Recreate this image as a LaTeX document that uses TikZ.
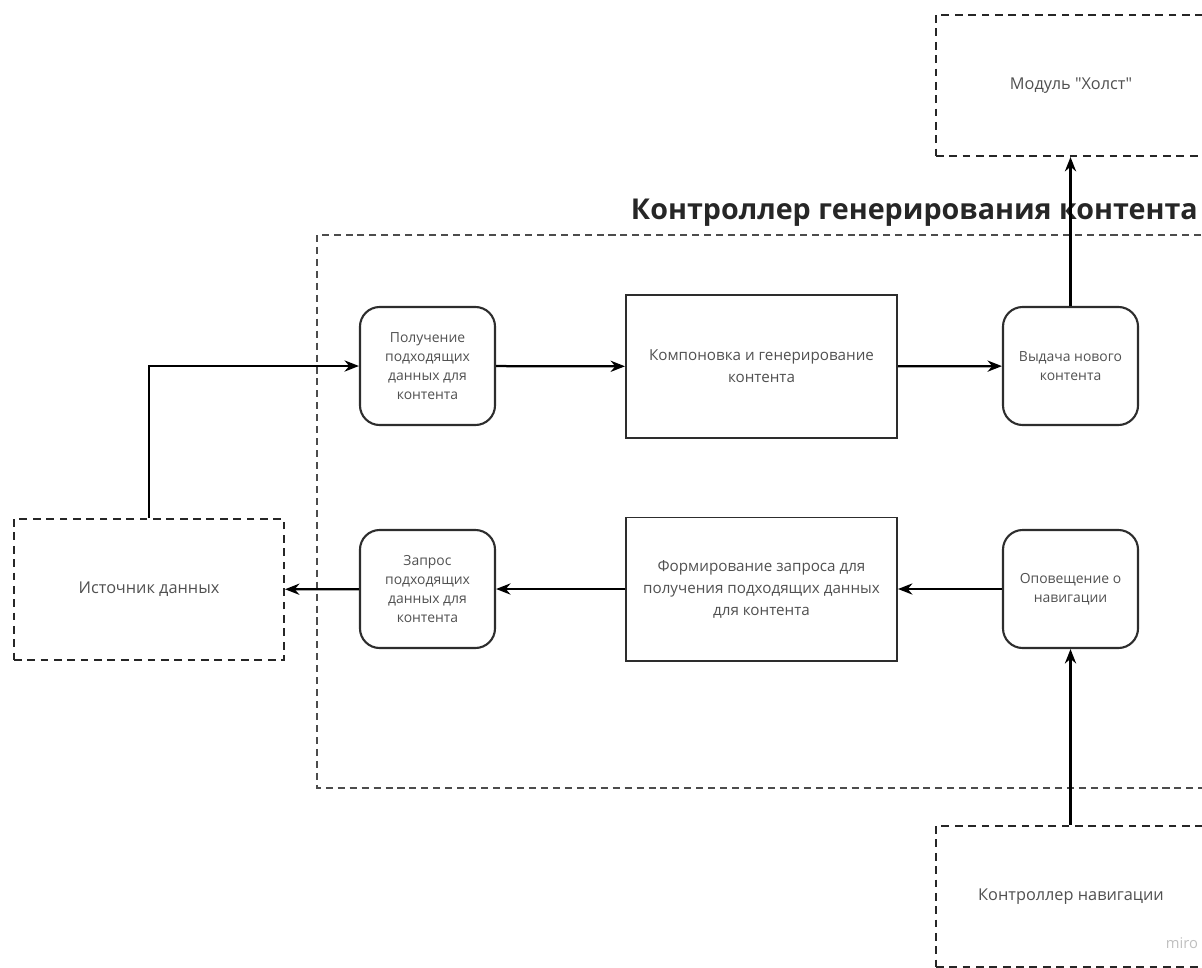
\documentclass[tikz,border=0pt]{standalone}
\usepackage{fontspec}
\setmainfont{Open Sans}[Ligatures=TeXOff]
\usetikzlibrary{arrows.meta,positioning}
\definecolor{txtgray}{RGB}{80,80,80}
\definecolor{edgegray}{RGB}{45,45,45}
\tikzset{
  stepr/.style={draw=edgegray, line width=1.5pt, rounded corners=14pt,
                minimum width=3.375cm, minimum height=2.95cm, align=center,
                font=\fontsize{9.9}{13.5}\selectfont, text=txtgray},
  proc/.style={draw=edgegray, line width=1.4pt, minimum width=6.775cm,
               minimum height=3.575cm, align=center,
               font=\fontsize{10.8}{15.6}\selectfont, text=txtgray},
  ext/.style={draw=black!85, line width=1.4pt, dash pattern=on 5.5pt off 4pt,
              minimum width=6.75cm, minimum height=3.525cm,
              font=\fontsize{11.6}{15.6}\selectfont, text=txtgray},
  frame/.style={draw=black!70, line width=0.8pt, dash pattern=on 5pt off 3.5pt},
  ttl/.style={font=\fontsize{20.4}{24}\selectfont\bfseries, text=black!85},
  flowarr/.style={-{Stealth[length=3.6mm,width=2.8mm]}, line width=1.6pt},
}

\begin{document}
\begin{tikzpicture}[x=0.025cm, y=-0.025cm]
  \useasboundingbox (0,0) rectangle (1202,967);
  \clip (0,0) rectangle (1202,967);
  % controller frame
  \draw[frame] (317,235) rectangle (1240,788);
  \node[ttl, anchor=west] (title) at (626,213) {Контроллер генерирования контента};
  % outer modules
  \node[ext] (canvas) at (1071,85.5) {Модуль "Холст"};
  \node[ext] (src) at (149,589.5) {Источник данных};
  \node[ext] (nav) at (1071,896.5) {Контроллер навигации};
  % upper row
  \node[stepr] (get) at (427.5,366) {Получение\\подходящих\\данных для\\контента};
  \node[proc] (comp) at (761.5,366.5) {Компоновка и генерирование\\контента};
  \node[stepr] (out) at (1070.5,366) {Выдача нового\\контента};
  % lower row
  \node[stepr] (req) at (427.5,589) {Запрос\\подходящих\\данных для\\контента};
  \node[proc] (form) at (761.5,589) {Формирование запроса для\\получения подходящих данных\\для контента};
  \node[stepr] (notif) at (1070.5,589) {Оповещение о\\навигации};
  % connectors
  \draw[flowarr] (src.north) |- (get.west);
  \draw[flowarr] (get) -- (comp);
  \draw[flowarr] (comp) -- (out);
  \draw[flowarr] (out.north) -- (out.north |- canvas.south);
  \draw[flowarr] (notif.south |- nav.north) -- (notif.south);
  \draw[flowarr] (notif) -- (form);
  \draw[flowarr] (form) -- (req);
  \draw[flowarr] (req) -- (src);
  \node[text=black!25, font=\fontsize{10.5}{12}\selectfont] (wm) at (1182,943) {miro};
\end{tikzpicture}
\end{document}
